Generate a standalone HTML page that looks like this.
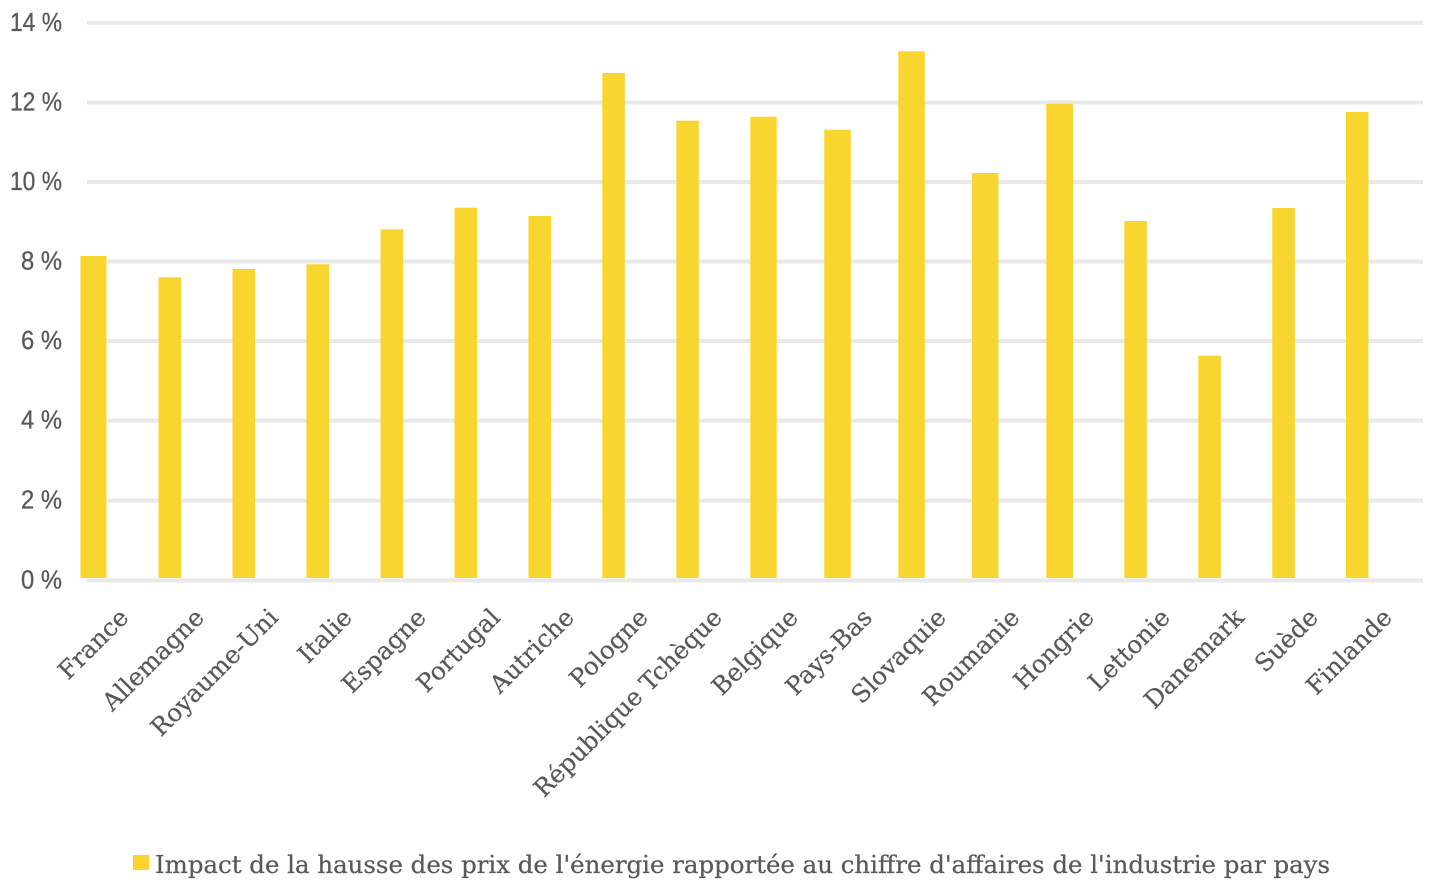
<!DOCTYPE html>
<html>
<head>
<meta charset="utf-8">
<style>
  html, body { margin: 0; padding: 0; background: #ffffff; }
  svg { display: block; }
  text { fill: #595959; }
</style>
</head>
<body>
<svg width="1429" height="885" viewBox="0 0 1429 885" xmlns="http://www.w3.org/2000/svg">
  <rect x="0" y="0" width="1429" height="885" fill="#ffffff"/>
  <!-- gridlines -->
  <g stroke="#e9e9e9" stroke-width="4">
    <line x1="87" x2="1423" y1="23" y2="23"/>
    <line x1="87" x2="1423" y1="102.5" y2="102.5"/>
    <line x1="87" x2="1423" y1="182" y2="182"/>
    <line x1="87" x2="1423" y1="261.5" y2="261.5"/>
    <line x1="87" x2="1423" y1="341" y2="341"/>
    <line x1="87" x2="1423" y1="420.5" y2="420.5"/>
    <line x1="87" x2="1423" y1="500.5" y2="500.5"/>
    <line x1="87" x2="1423" y1="580.5" y2="580.5"/>
  </g>
  <!-- y tick labels -->
  <g font-family="'Liberation Sans', 'DejaVu Sans', sans-serif" font-size="26" text-anchor="end" stroke="#595959" stroke-width="0.3">
    <text x="62" y="31" textLength="52" lengthAdjust="spacingAndGlyphs">14 %</text>
    <text x="62" y="110.5" textLength="52" lengthAdjust="spacingAndGlyphs">12 %</text>
    <text x="62" y="190" textLength="52" lengthAdjust="spacingAndGlyphs">10 %</text>
    <text x="62" y="269.5" textLength="41" lengthAdjust="spacingAndGlyphs">8 %</text>
    <text x="62" y="349" textLength="41" lengthAdjust="spacingAndGlyphs">6 %</text>
    <text x="62" y="428.5" textLength="41" lengthAdjust="spacingAndGlyphs">4 %</text>
    <text x="62" y="508.5" textLength="41" lengthAdjust="spacingAndGlyphs">2 %</text>
    <text x="62" y="588.5" textLength="41" lengthAdjust="spacingAndGlyphs">0 %</text>
  </g>
  <!-- bars -->
  <g fill="#f8d52f">
    <rect x="80.5" y="256" width="26" height="322"/>
    <rect x="158.5" y="277.3" width="22.5" height="300.7"/>
    <rect x="232.5" y="269" width="22.5" height="309"/>
    <rect x="306.5" y="264.3" width="22.5" height="313.7"/>
    <rect x="380.5" y="229.3" width="22.5" height="348.7"/>
    <rect x="454.5" y="207.7" width="22.5" height="370.3"/>
    <rect x="528.5" y="216" width="22.5" height="362"/>
    <rect x="602.3" y="73" width="22.5" height="505"/>
    <rect x="676.3" y="120.7" width="22.5" height="457.3"/>
    <rect x="750.3" y="116.7" width="26.4" height="461.3"/>
    <rect x="824.3" y="129.7" width="26.5" height="448.3"/>
    <rect x="898.3" y="51.3" width="26.5" height="526.7"/>
    <rect x="972" y="173" width="26.4" height="405"/>
    <rect x="1046.3" y="103.7" width="26.7" height="474.3"/>
    <rect x="1124.3" y="221" width="22.5" height="357"/>
    <rect x="1198.3" y="355.7" width="22.5" height="222.3"/>
    <rect x="1272.3" y="208" width="22.5" height="370"/>
    <rect x="1346" y="112" width="22.5" height="466"/>
  </g>
  <!-- category labels -->
  <g font-family="'DejaVu Serif', 'Liberation Serif', serif" font-size="24.5" text-anchor="end" stroke="#595959" stroke-width="0.25">
    <text transform="translate(130,619) rotate(-45)">France</text>
    <text transform="translate(205.5,619) rotate(-45)">Allemagne</text>
    <text transform="translate(279.5,619) rotate(-45)">Royaume-Uni</text>
    <text transform="translate(353.5,619) rotate(-45)">Italie</text>
    <text transform="translate(427.5,619) rotate(-45)">Espagne</text>
    <text transform="translate(501.5,619) rotate(-45)">Portugal</text>
    <text transform="translate(575.5,619) rotate(-45)">Autriche</text>
    <text transform="translate(649.5,619) rotate(-45)">Pologne</text>
    <text transform="translate(723.5,619) rotate(-45)">République Tchèque</text>
    <text transform="translate(799.5,619) rotate(-45)">Belgique</text>
    <text transform="translate(873.5,619) rotate(-45)">Pays-Bas</text>
    <text transform="translate(947.5,619) rotate(-45)">Slovaquie</text>
    <text transform="translate(1021,619) rotate(-45)">Roumanie</text>
    <text transform="translate(1095.5,619) rotate(-45)">Hongrie</text>
    <text transform="translate(1171.5,619) rotate(-45)">Lettonie</text>
    <text transform="translate(1245.5,619) rotate(-45)">Danemark</text>
    <text transform="translate(1319.5,619) rotate(-45)">Suède</text>
    <text transform="translate(1393.5,619) rotate(-45)">Finlande</text>
  </g>
  <!-- legend -->
  <rect x="133" y="855" width="16" height="15" fill="#f8d52f"/>
  <text x="155" y="873" font-family="'DejaVu Serif', 'Liberation Serif', serif" font-size="24" stroke="#595959" stroke-width="0.25" textLength="1175" lengthAdjust="spacingAndGlyphs">Impact de la hausse des prix de l'énergie rapportée au chiffre d'affaires de l'industrie par pays</text>
</svg>
</body>
</html>
